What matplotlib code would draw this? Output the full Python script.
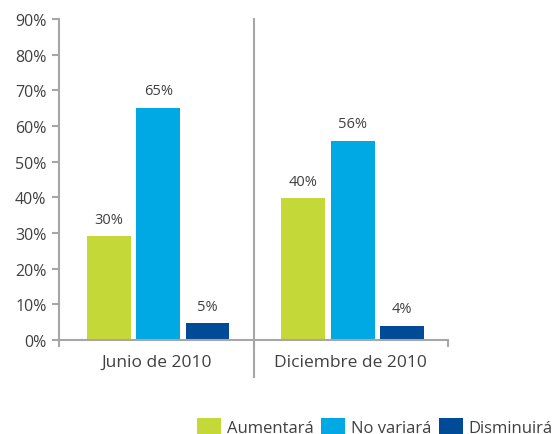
import matplotlib
matplotlib.use('Agg')
import matplotlib.pyplot as plt
import numpy as np

plt.rcParams['font.family'] = ['Open Sans', 'DejaVu Sans']

categories = ['Junio de 2010', 'Diciembre de 2010']
series = ['Aumentará', 'No variará', 'Disminuirá']
aumentara = [29.1, 39.7]
no_variara = [65.1, 55.9]
disminuira = [4.7, 3.9]
bar_labels = [['30%', '40%'], ['65%', '56%'], ['5%', '4%']]
colors = ['#c4d838', '#00a9e4', '#004b97']

values = [aumentara, no_variara, disminuira]
text_color = '#404040'
axis_color = '#a6a6a6'

fig = plt.figure(figsize=(5.55, 4.35), dpi=100)
ax = fig.add_axes([0.1063, 0.216, 0.701, 0.738])

x = np.arange(len(categories))
width = 0.225
step = 0.254
for i, (name, vals) in enumerate(zip(series, values)):
    pos = x + (i - 1) * step + 0.01
    bars = ax.bar(pos, vals, width, color=colors[i], label=name, zorder=2)
    for b, lab in zip(bars, bar_labels[i]):
        ax.annotate(lab, (b.get_x() + b.get_width() / 2, b.get_height()),
                    xytext=(0, 7), textcoords='offset points',
                    ha='center', va='bottom', fontsize=10.5, color=text_color)

ax.set_xlim(-0.5, 1.5)
ax.set_ylim(0, 90)
ax.set_yticks(range(0, 91, 10))
ax.set_yticklabels([f'{v}%' for v in range(0, 91, 10)])

ax.set_xticks([-0.5, 0.5, 1.5])
ax.set_xticklabels([])
ax.set_xticks(x, minor=True)
ax.set_xticklabels(categories, minor=True)
ax.tick_params(axis='x', which='minor', length=0, pad=10, labelsize=12.5, labelcolor=text_color)
ax.tick_params(axis='x', which='major', length=5, width=1.5, color=axis_color)
ax.tick_params(axis='y', length=5, width=1.5, color=axis_color, labelsize=11.5,
               labelcolor=text_color, pad=4)

for s in ['top', 'right']:
    ax.spines[s].set_visible(False)
for s in ['left', 'bottom']:
    ax.spines[s].set_color(axis_color)
    ax.spines[s].set_linewidth(1.5)

# separator between the two periods
trans = ax.get_xaxis_transform()
ax.plot([0.5, 0.5], [-0.115, 1.0], transform=trans, color=axis_color,
        lw=1.5, clip_on=False, zorder=3)

fig.legend(loc='lower right', bbox_to_anchor=(1.005, -0.015), ncol=3, frameon=False,
           fontsize=12, handlelength=1.45, handleheight=1.15, handletextpad=0.35,
           columnspacing=0.45, labelcolor=text_color, borderaxespad=0.1, borderpad=0.2)

fig.savefig('out.png', dpi=100)
